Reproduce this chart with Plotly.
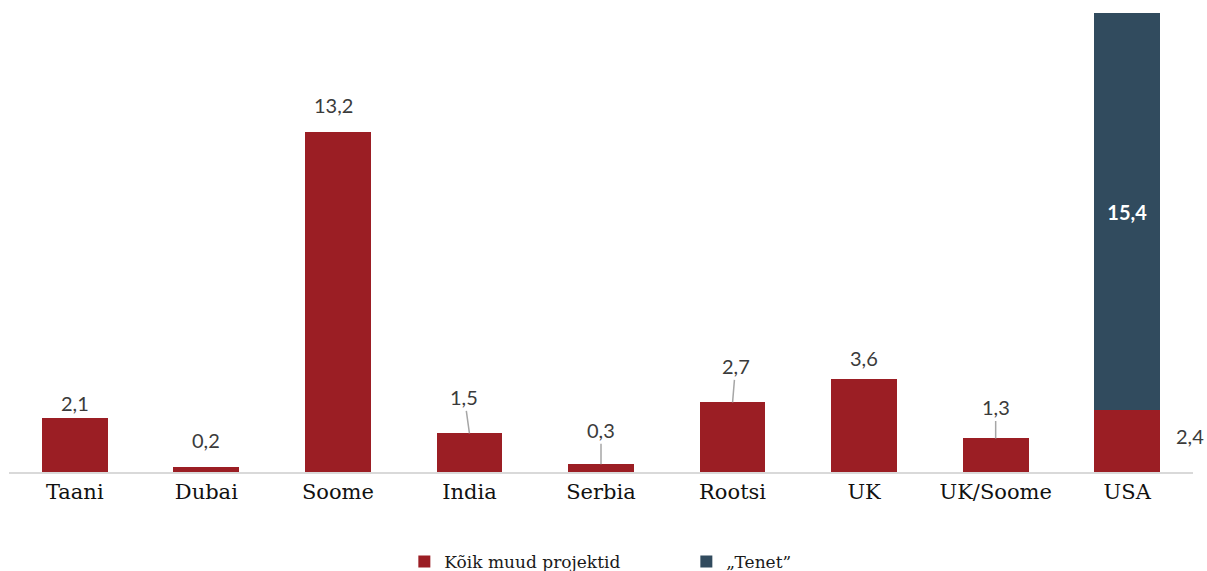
import plotly.graph_objects as go

# Data
categories = ["Taani", "Dubai", "Soome", "India", "Serbia", "Rootsi", "UK", "UK/Soome", "USA"]
other_projects = [2.1, 0.2, 13.2, 1.5, 0.3, 2.7, 3.6, 1.3, 2.4]
tenet = [0, 0, 0, 0, 0, 0, 0, 0, 15.4]
series_names = ["Kõik muud projektid", "\u201e\u201eTenet\u201d"[1:]]

RED = "#9B1E24"
BLUE = "#314B5E"
LABEL_FONT = dict(family="Lato, Open Sans, sans-serif", size=20, color="#3b3b3b")
SERIF = "DejaVu Serif, Liberation Serif, serif"

# Label placement for the red series: (dx, dy, leader line); dy is screen-down
label_offsets = {
    "Taani": (0, -15, False),
    "Dubai": (0, -27, False),
    "Soome": (-4, -27, False),
    "India": (-5, -36, True),
    "Serbia": (0, -34, True),
    "Rootsi": (3, -36, True),
    "UK": (0, -21, False),
    "UK/Soome": (0, -31, True),
    "USA": (63, 26, False),
}

fig = go.Figure()
fig.add_trace(go.Bar(
    x=categories, y=other_projects, name=series_names[0],
    marker=dict(color=RED, line=dict(width=0)),
))
fig.add_trace(go.Bar(
    x=categories, y=tenet, name=series_names[1],
    marker=dict(color=BLUE, line=dict(width=0)),
    text=[f"{v:.1f}".replace(".", ",") if v else "" for v in tenet],
    textposition="inside", insidetextanchor="middle",
    textfont=dict(family="Lato, Open Sans, sans-serif", size=20, color="white", weight="bold"),
))

for cat, val in zip(categories, other_projects):
    dx, dy, line = label_offsets[cat]
    txt = f"{val:.1f}".replace(".", ",")
    if line:
        fig.add_annotation(
            x=cat, y=val, text=txt, showarrow=True, ax=dx, ay=dy,
            arrowhead=0, arrowwidth=1.5, arrowcolor="#a6a6a6", standoff=0,
            font=LABEL_FONT,
        )
    else:
        fig.add_annotation(
            x=cat, y=val, text=txt, showarrow=False,
            xshift=dx, yshift=-dy, font=LABEL_FONT,
        )

fig.update_layout(
    width=1207, height=571,
    barmode="stack", bargap=0.5,
    plot_bgcolor="white", paper_bgcolor="white",
    margin=dict(l=9, r=14, t=13, b=99),
    showlegend=True,
    legend=dict(
        orientation="h", xref="container", yref="container",
        x=0.335, y=0.016, xanchor="left", yanchor="middle",
        font=dict(family=SERIF, size=17, color="#1a1a1a"),
        entrywidth=237, entrywidthmode="pixels",
        traceorder="normal",
    ),
    xaxis=dict(
        range=[-0.5, 8.5], autorange=False,
        showline=True, linecolor="#d9d9d9", linewidth=2,
        showgrid=False, ticks="", zeroline=False,
        tickfont=dict(family=SERIF, size=21, color="#111111"),
    ),
    yaxis=dict(
        range=[0, 17.8], visible=False, showgrid=False, zeroline=False,
    ),
)

fig.write_html("out.html")
